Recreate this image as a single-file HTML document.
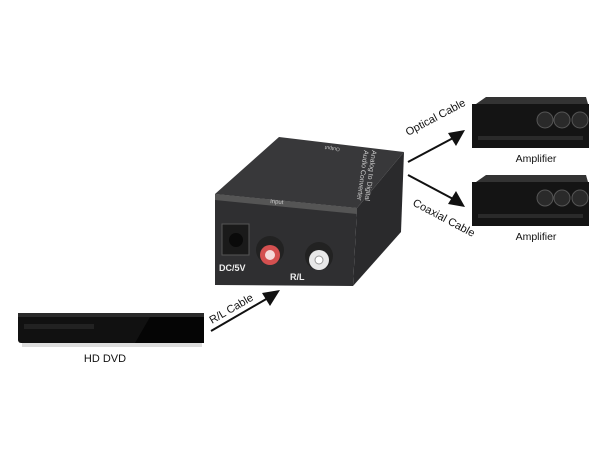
<!DOCTYPE html>
<html><head><meta charset="utf-8"><style>html,body{margin:0;padding:0;background:#fff;}svg{display:block}</style></head>
<body>
<svg width="600" height="450" viewBox="0 0 600 450" xmlns="http://www.w3.org/2000/svg" font-family="Liberation Sans, sans-serif">
<rect width="600" height="450" fill="#fff"/>
<!-- DVD player -->
<rect x="18" y="313" width="186" height="30" rx="3" fill="#111"/>
<rect x="18" y="313" width="186" height="4" fill="#2a2a2a"/>
<polygon points="135,343 150,317 204,317 204,343" fill="#050505"/>
<rect x="24" y="324" width="70" height="5" fill="#222"/>
<rect x="22" y="343" width="180" height="4" fill="#ddd"/>
<text x="105" y="362" font-size="11" text-anchor="middle" fill="#111">HD DVD</text>
<!-- R/L arrow -->
<line x1="211" y1="331" x2="268" y2="298" stroke="#111" stroke-width="2"/>
<polygon points="280,290 262,293 270,306" fill="#111"/>
<text transform="translate(212,324) rotate(-30)" font-size="11" fill="#111">R/L Cable</text>
<!-- converter -->
<polygon points="215,194 279,137 404,152 357,208" fill="#38383a"/>
<polygon points="357,208 404,152 401,232 353,286" fill="#2a2a2c"/>
<polygon points="215,194 357,208 353,286 215,285" fill="#2f2f31"/>
<polygon points="215,194 357,208 357,214 215,200" fill="#555"/>
<text transform="translate(340,148) rotate(188)" font-size="5" fill="#ccc">Output</text>
<text transform="translate(372,150) rotate(98)" font-size="7" fill="#ccc">Analog to Digital</text>
<text transform="translate(364,150) rotate(98)" font-size="7" fill="#ccc">Audio Converter</text>
<text transform="translate(270,203) rotate(5)" font-size="6" fill="#ccc">Input</text>
<rect x="222" y="224" width="27" height="31" fill="#1a1a1a" stroke="#555"/>
<circle cx="236" cy="240" r="7" fill="#0a0a0a"/>
<circle cx="270" cy="250" r="14" fill="#222"/>
<circle cx="270" cy="255" r="10" fill="#d45050"/>
<circle cx="270" cy="255" r="5" fill="#f4dada"/>
<circle cx="319" cy="256" r="14" fill="#222"/>
<circle cx="319" cy="260" r="10" fill="#e8e8e8"/>
<circle cx="319" cy="260" r="4" fill="#fff" stroke="#999"/>
<text x="219" y="271" font-size="9" font-weight="bold" fill="#eee">DC/5V</text>
<text x="290" y="280" font-size="9" font-weight="bold" fill="#eee">R/L</text>
<!-- arrows to amps -->
<line x1="408" y1="162" x2="455" y2="137" stroke="#111" stroke-width="2"/>
<polygon points="465,130 448,133 456,146" fill="#111"/>
<line x1="408" y1="175" x2="455" y2="200" stroke="#111" stroke-width="2"/>
<polygon points="465,207 448,204 456,191" fill="#111"/>
<text transform="translate(408,136) rotate(-28)" font-size="11" fill="#111">Optical Cable</text>
<text transform="translate(412,205) rotate(28)" font-size="11" fill="#111">Coaxial Cable</text>
<!-- amplifiers -->
<g>
<polygon points="476,104 486,97 586,97 588,104" fill="#333"/>
<rect x="472" y="104" width="117" height="44" fill="#141414"/>
<circle cx="545" cy="120" r="8" fill="#2a2a2a" stroke="#555"/><circle cx="562" cy="120" r="8" fill="#2a2a2a" stroke="#555"/><circle cx="580" cy="120" r="8" fill="#2a2a2a" stroke="#555"/>
<rect x="478" y="136" width="105" height="4" fill="#2a2a2a"/>
<text x="536" y="162" font-size="10.5" text-anchor="middle" fill="#111">Amplifier</text>
</g>
<g transform="translate(0,78)">
<polygon points="476,104 486,97 586,97 588,104" fill="#333"/>
<rect x="472" y="104" width="117" height="44" fill="#141414"/>
<circle cx="545" cy="120" r="8" fill="#2a2a2a" stroke="#555"/><circle cx="562" cy="120" r="8" fill="#2a2a2a" stroke="#555"/><circle cx="580" cy="120" r="8" fill="#2a2a2a" stroke="#555"/>
<rect x="478" y="136" width="105" height="4" fill="#2a2a2a"/>
<text x="536" y="162" font-size="10.5" text-anchor="middle" fill="#111">Amplifier</text>
</g>
</svg>
</body></html>
